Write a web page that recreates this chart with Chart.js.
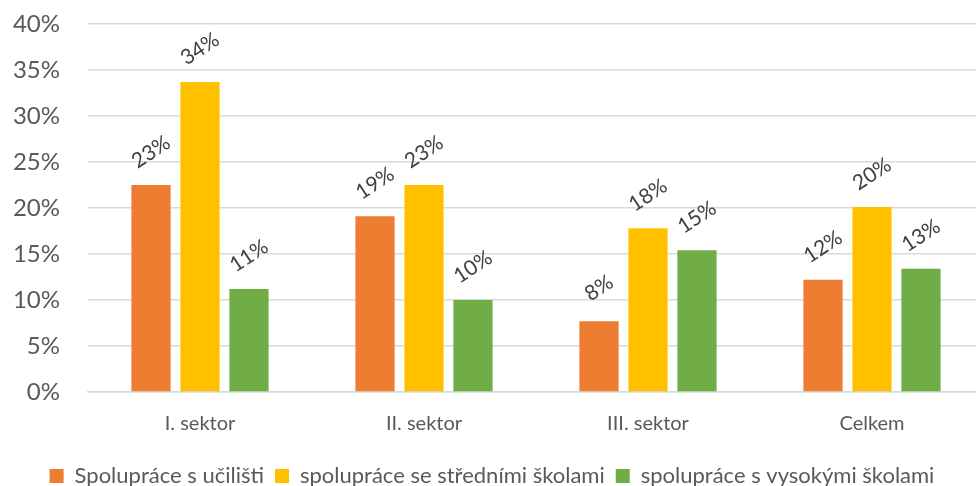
<!DOCTYPE html>
<html>
<head>
<meta charset="utf-8">
<script src="https://cdn.jsdelivr.net/npm/chart.js@4.4.1/dist/chart.umd.min.js"></script>
<style>
  html, body { margin: 0; padding: 0; background: #fff; overflow: hidden; }
  #wrap { width: 984px; height: 486px; position: relative; }
</style>
</head>
<body>
<div id="wrap"><canvas id="chart"></canvas></div>
<script>
// categories and series (percent)
const categories = ['I. sektor', 'II. sektor', 'III. sektor', 'Celkem'];
const seriesNames = ['Spolupráce s učilišti', 'spolupráce se středními školami', 'spolupráce s vysokými školami'];
const uciliste = [22.5, 19.1, 7.7, 12.2];
const stredniSkoly = [33.7, 22.5, 17.8, 20.1];
const vysokeSkoly = [11.2, 10.0, 15.4, 13.4];
const seriesColors = ['#ed7d31', '#ffc000', '#70ad47'];
const yTicks = [0, 5, 10, 15, 20, 25, 30, 35, 40];

const FONT = 'Lato, "Open Sans", sans-serif';

// rotated value labels above each bar
const valueLabels = {
    id: 'valueLabels',
    afterDatasetsDraw: function(chart) {
        const ctx = chart.ctx;
        ctx.save();
        ctx.fillStyle = '#404040';
        ctx.font = '21px ' + FONT;
        ctx.textAlign = 'center';
        ctx.textBaseline = 'middle';
        chart.data.datasets.forEach(function(ds, i) {
            chart.getDatasetMeta(i).data.forEach(function(bar, j) {
                ctx.save();
                ctx.translate(bar.x, bar.y - 33);
                ctx.rotate(-33 * Math.PI / 180);
                ctx.fillText(Math.round(ds.data[j]) + '%', 0, 0);
                ctx.restore();
            });
        });
        ctx.restore();
    }
};

// push the legend a bit lower, closer to the bottom edge
const legendShift = {
    id: 'legendShift',
    afterLayout: function(chart) {
        chart.legend.top += 11;
        chart.legend.bottom += 11;
    }
};

const ctx = document.getElementById('chart').getContext('2d');
new Chart(ctx, {
    type: 'bar',
    data: {
        labels: categories,
        datasets: [
            { label: seriesNames[0], data: uciliste, backgroundColor: seriesColors[0] },
            { label: seriesNames[1], data: stredniSkoly, backgroundColor: seriesColors[1] },
            { label: seriesNames[2], data: vysokeSkoly, backgroundColor: seriesColors[2] }
        ]
    },
    options: {
        responsive: true,
        maintainAspectRatio: false,
        animation: false,
        layout: { padding: { top: 24, right: 0, left: 0, bottom: 0 } },
        datasets: {
            bar: { barPercentage: 0.8, categoryPercentage: 0.656 }
        },
        plugins: {
            legend: {
                position: 'bottom',
                labels: {
                    color: '#595959',
                    font: { family: FONT, size: 22 },
                    boxWidth: 14,
                    boxHeight: 14,
                    padding: 11
                }
            },
            tooltip: { enabled: false }
        },
        scales: {
            x: {
                afterFit: function(scale) { scale.height = 51; },
                grid: { display: false, drawTicks: false },
                border: { color: '#d9d9d9', width: 1.5 },
                ticks: {
                    color: '#595959',
                    font: { family: FONT, size: 20 },
                    padding: 20
                }
            },
            y: {
                min: 0,
                max: 40,
                afterFit: function(scale) { scale.width = 88; },
                afterBuildTicks: function(scale) {
                    scale.ticks = yTicks.map(function(v) { return { value: v }; });
                },
                grid: { color: '#d9d9d9', lineWidth: 1.5, drawTicks: true, tickLength: 24, tickColor: 'rgba(0,0,0,0)' },
                border: { display: false },
                ticks: {
                    color: '#595959',
                    font: { family: FONT, size: 24 },
                    padding: 4,
                    callback: function(v) { return v + '%'; }
                }
            }
        }
    },
    plugins: [valueLabels, legendShift]
});
</script>
</body>
</html>
